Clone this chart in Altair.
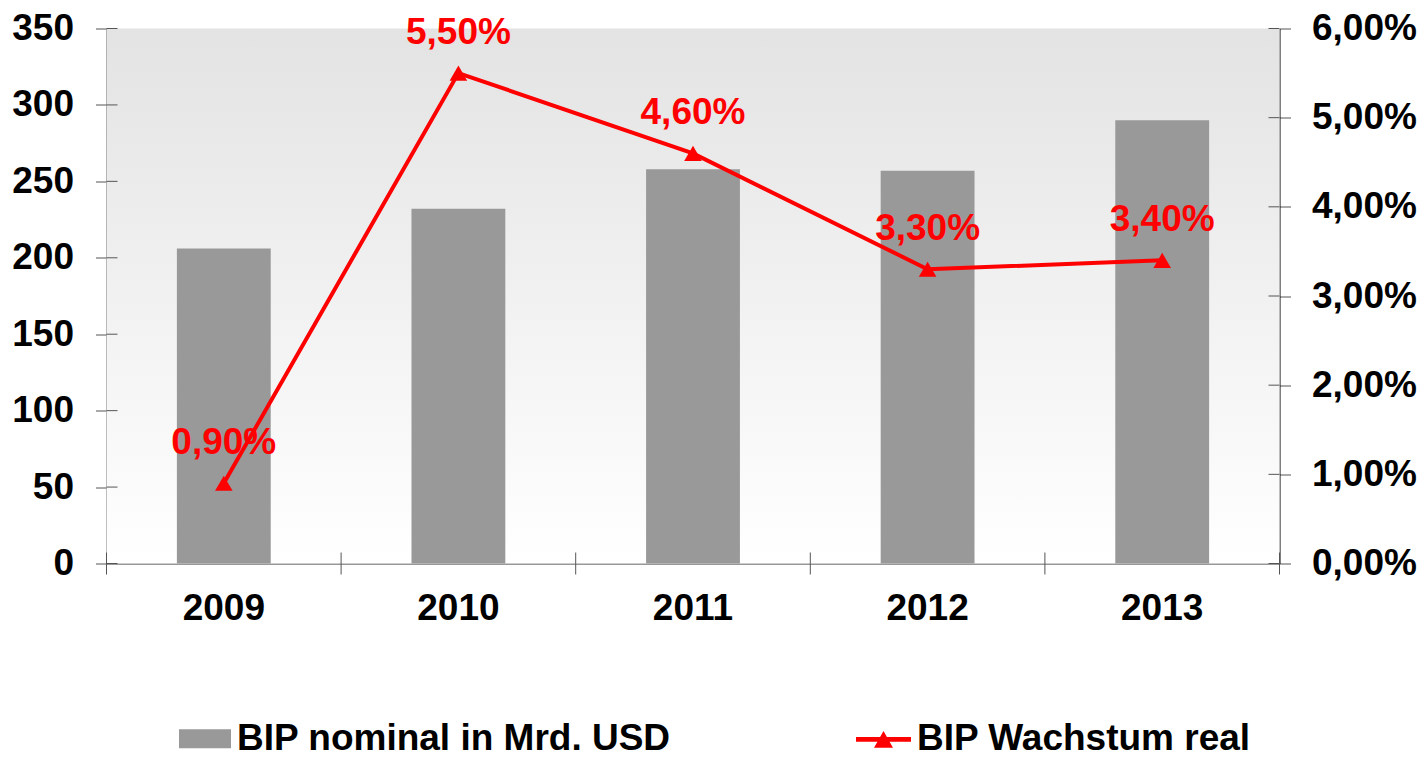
import altair as alt
import pandas as pd

years = ["2009", "2010", "2011", "2012", "2013"]
gdp_nominal = [206, 232, 258, 257, 290]
growth_real = [0.90, 5.50, 4.60, 3.30, 3.40]
left_ticks = [0, 50, 100, 150, 200, 250, 300, 350]
right_ticks = [0, 1, 2, 3, 4, 5, 6]
series_bar = "BIP nominal in Mrd. USD"
series_line = "BIP Wachstum real"

df = pd.DataFrame({
    "year": years,
    "gdp": gdp_nominal,
    "growth": growth_real,
    "s_bar": series_bar,
    "s_line": series_line,
})
df_lt = pd.DataFrame({"v": left_ticks})
df_rt = pd.DataFrame({"v": right_ticks})

W, H = 1173, 535
TICK = 11
FONT = "Liberation Sans"
RED = "#ff0000"
GRAY = "#999999"
TICKCOL = "#555555"
PAD_INNER, PAD_OUTER = 0.6, 0.3
STEP = W / (len(years) - PAD_INNER + 2 * PAD_OUTER)

x_scale = alt.Scale(paddingInner=PAD_INNER, paddingOuter=PAD_OUTER)
x_axis = alt.Axis(
    title=None, labelAngle=0, labelFont=FONT, labelFontSize=37,
    labelFontWeight="bold", labelColor="black", ticks=False,
    domainColor="#333333", labelPadding=27,
)
x_enc = alt.X("year:N", scale=x_scale, axis=x_axis)

bg = alt.Chart(alt.Data(values=[{"k": 1}])).mark_rect(
    color=alt.Gradient(
        gradient="linear",
        stops=[alt.GradientStop(color="#e3e3e3", offset=0),
               alt.GradientStop(color="#ffffff", offset=1)],
        x1=0, x2=0, y1=0, y2=1,
    )
).encode(x=alt.value(0), x2=alt.value(W), y=alt.value(0), y2=alt.value(H))

bars = alt.Chart(df).mark_bar().encode(
    x=x_enc,
    y=alt.Y(
        "gdp:Q",
        scale=alt.Scale(domain=[0, 350], nice=False),
        axis=alt.Axis(
            values=left_ticks, title=None, grid=False, labelFont=FONT,
            labelFontSize=37, labelFontWeight="bold", labelColor="black",
            tickSize=TICK, tickColor=TICKCOL, domainColor="black",
            labelPadding=22,
        ),
    ),
    fill=alt.Fill(
        "s_bar:N",
        scale=alt.Scale(domain=[series_bar], range=[GRAY]),
        legend=alt.Legend(
            orient="none", legendX=72.5, legendY=684.2, title=None,
            symbolType="M-1,-0.365H1V0.365H-1Z", symbolSize=2704,
            symbolStrokeWidth=0, labelFont=FONT, labelFontSize=37,
            labelFontWeight="bold", labelColor="black", labelOffset=6,
            labelLimit=2000, padding=0,
        ),
    ),
)

# inner halves of the value-axis ticks (the ticks cross the axis lines)
lt_inner = alt.Chart(df_lt).mark_rule(color=TICKCOL, strokeWidth=1).encode(
    y=alt.Y("v:Q", scale=alt.Scale(domain=[0, 350], nice=False), axis=None),
    x=alt.value(0), x2=alt.value(TICK),
)
rt_inner = alt.Chart(df_rt).mark_rule(color=TICKCOL, strokeWidth=1).encode(
    y=alt.Y("v:Q", scale=alt.Scale(domain=[0, 6], nice=False), axis=None),
    x=alt.value(W - TICK), x2=alt.value(W),
)
# category-boundary ticks crossing the x axis: band centre -/+ half a step
xt_start = alt.Chart(df).mark_rule(
    color=TICKCOL, strokeWidth=1, xOffset=-STEP / 2
).encode(
    x=x_enc,
    y=alt.value(H - TICK), y2=alt.value(H + TICK),
)
xt_end = alt.Chart(df).transform_filter(
    alt.datum.year == years[-1]
).mark_rule(
    color=TICKCOL, strokeWidth=1, xOffset=STEP / 2
).encode(
    x=x_enc,
    y=alt.value(H - TICK), y2=alt.value(H + TICK),
)

y_growth = alt.Y(
    "growth:Q",
    scale=alt.Scale(domain=[0, 6], nice=False),
    axis=alt.Axis(
        orient="right", values=right_ticks, title=None, grid=False,
        labelFont=FONT, labelFontSize=37, labelFontWeight="bold",
        labelColor="black", tickSize=TICK, tickColor=TICKCOL,
        domainColor="black", labelPadding=21,
        labelExpr="replace(format(datum.value, '.2f'), '.', ',') + '%'",
    ),
)

line = alt.Chart(df).mark_line(color=RED, strokeWidth=4).encode(
    x=x_enc, y=y_growth
)

points = alt.Chart(df).mark_point(
    shape="triangle-up", filled=True, size=310, opacity=1
).encode(
    x=x_enc,
    y=y_growth,
    fill=alt.Fill(
        "s_line:N",
        scale=alt.Scale(domain=[series_line], range=[RED]),
        legend=alt.Legend(
            orient="none", legendX=749.5, legendY=683.3, title=None,
            symbolType="M-1,-0.085H1V0.085H-1Z M0,-0.3L0.345,0.305H-0.345Z",
            symbolSize=3025, symbolStrokeWidth=0, labelFont=FONT,
            labelFontSize=37, labelFontWeight="bold", labelColor="black",
            labelOffset=6, labelLimit=2000, padding=0,
        ),
    ),
)

labels = alt.Chart(df).transform_calculate(
    lab="replace(format(datum.growth, '.2f'), '.', ',') + '%'"
).mark_text(
    dy=-40, font=FONT, fontSize=37, fontWeight="bold", color=RED,
    baseline="middle", align="center",
).encode(
    x=x_enc,
    y=y_growth,
    text="lab:N",
)

growth_layer = alt.layer(line, points, labels)

chart = alt.layer(
    bg, bars, lt_inner, rt_inner, xt_start, xt_end, growth_layer
).resolve_scale(
    y="independent", fill="independent"
).resolve_legend(fill="independent").properties(
    width=W, height=H,
    autosize=alt.AutoSizeParams(type="none"),
    padding={"left": 98.5, "top": 20.5, "right": 137.5, "bottom": 186.5},
).configure_view(stroke=None)

chart.save("out.html", embed_options={"renderer": "svg", "actions": False})
